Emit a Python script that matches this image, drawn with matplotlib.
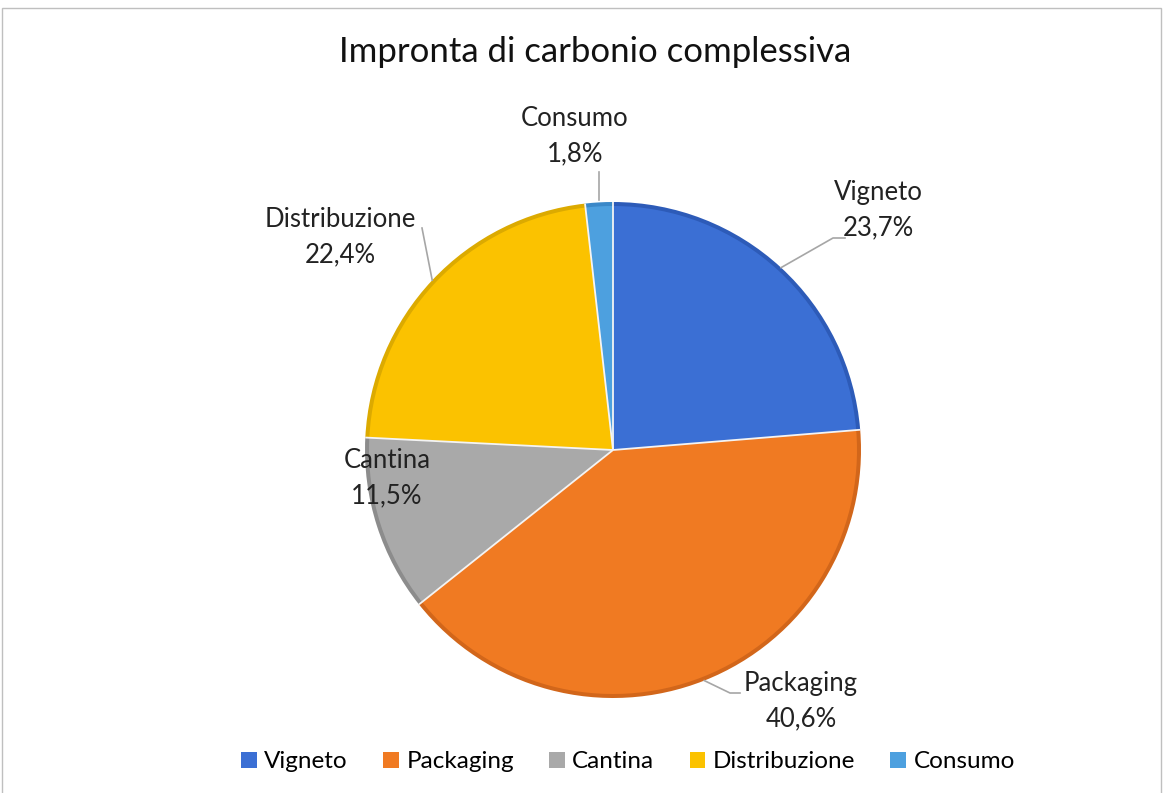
import matplotlib.pyplot as plt
import numpy as np

categorie = ['Vigneto', 'Packaging', 'Cantina', 'Distribuzione', 'Consumo']
valori = [23.7, 40.6, 11.5, 22.4, 1.8]
colori = ['#3b6fd4', '#f07a22', '#a9a9a9', '#fbc200', '#4da0df']
colori_bordo = ['#2d5bb8', '#d2661a', '#8c8c8c', '#dcaa00', '#3a88c8']

# posizioni etichette (pixel, origine in basso a sinistra)
pos_etichette = [(878, 583), (801, 92), (387, 315), (340, 556), (575, 657)]

plt.rcParams['font.family'] = ['Lato', 'DejaVu Sans']

W, H = 1167, 793
fig = plt.figure(figsize=(W / 100, H / 100), dpi=100)
ax = fig.add_axes([0, 0, 1, 1])

centro = (613, 343)
r = 248

# bordo scuro + riempimento (effetto smussato)
ax.pie(valori, colors=colori_bordo, startangle=90, counterclock=False,
       center=centro, radius=r, wedgeprops=dict(linewidth=0), frame=True)
wedges, _ = ax.pie(valori, colors=colori, startangle=90, counterclock=False,
                   center=centro, radius=r - 4,
                   wedgeprops=dict(linewidth=0), frame=True)
ax.set_xlim(0, W)
ax.set_ylim(0, H)
ax.axis('off')

for w in wedges:
    a = np.deg2rad(w.theta1)
    ax.plot([centro[0], centro[0] + r * np.cos(a)], [centro[1], centro[1] + r * np.sin(a)],
            color='#f4f4f4', lw=1.3, solid_capstyle='butt')

for w, nome, v, (lx, ly) in zip(wedges, categorie, valori, pos_etichette):
    ax.text(lx, ly, f"{nome}\n{v:.1f}%".replace('.', ','), ha='center', va='center',
            fontsize=18.5, color='#222222', linespacing=1.5)
    ang = np.deg2rad((w.theta1 + w.theta2) / 2)
    ex, ey = centro[0] + r * np.cos(ang), centro[1] + r * np.sin(ang)
    if nome == 'Vigneto':
        ax.plot([ex, 833, 845], [ey, 555, 555], color='#a6a6a6', lw=1.2)
    elif nome == 'Packaging':
        ax.plot([ex, 730, 740], [ey, 100, 100], color='#a6a6a6', lw=1.2)
    elif nome == 'Distribuzione':
        ax.plot([ex, 422], [ey, 565], color='#a6a6a6', lw=1.2)
    elif nome == 'Consumo':
        ax.plot([ex, ex], [ey + 2, 621], color='#a6a6a6', lw=1.2)

fig.text(595 / W, 1 - 52 / H, 'Impronta di carbonio complessiva', ha='center', va='center',
         fontsize=25, color='#111111')

leg = ax.legend(wedges, categorie, loc='center', bbox_to_anchor=(628 / W, 1 - 762 / H),
                bbox_transform=fig.transFigure, ncol=5, frameon=False, fontsize=17.5,
                handlelength=0.65, handleheight=0.65, handletextpad=0.3, columnspacing=1.45)

fig.patches.append(plt.Rectangle((0.002, -0.01), 0.993, 1.0, transform=fig.transFigure,
                                 fill=False, edgecolor='#bfbfbf', lw=1))

fig.savefig('out.png', dpi=100)
